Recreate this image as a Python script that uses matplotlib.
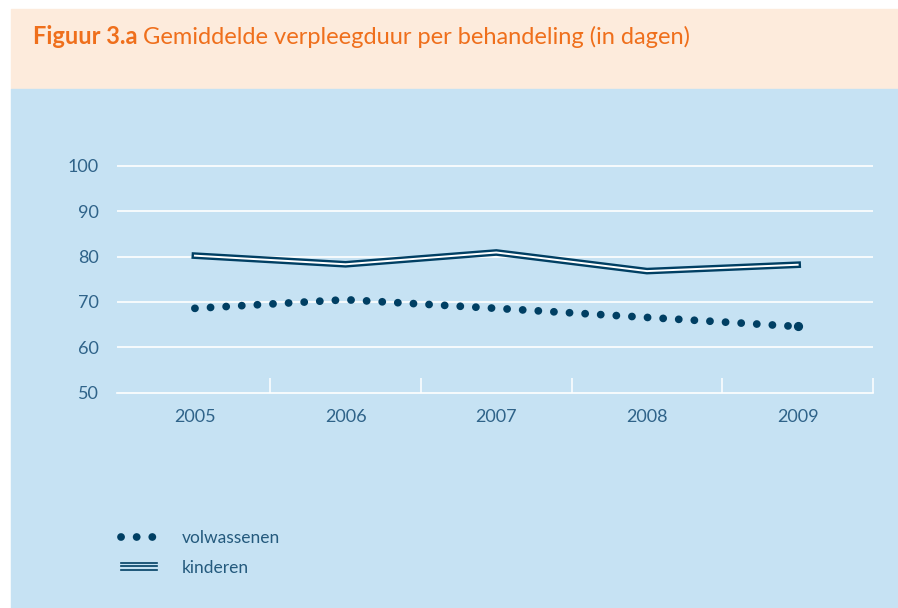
import matplotlib.pyplot as plt
from matplotlib.patches import Rectangle
from matplotlib.lines import Line2D
from matplotlib.legend_handler import HandlerBase

plt.rcParams['font.family'] = ['Lato', 'DejaVu Sans']

# Data
years = [2005, 2006, 2007, 2008, 2009]
volwassenen = [68.6, 70.5, 68.6, 66.6, 64.6]
kinderen = [80.2, 78.3, 80.9, 76.8, 78.2]
yticks = [50, 60, 70, 80, 90, 100]

dark = '#003f63'
tick_col = '#2f6389'
orange = '#ef6f1c'


class TripleLine(HandlerBase):
    # legend symbol for the "kinderen" double line: three thin stripes
    def create_artists(self, legend, orig, xdescent, ydescent, width, height,
                       fontsize, trans):
        out = []
        for dy in (-2.4, 0, 2.4):
            y = height / 2 - ydescent + dy
            out.append(Line2D([-xdescent, width - xdescent], [y, y], color=dark,
                              lw=1.2, transform=trans))
        return out


fig = plt.figure(figsize=(8.98, 6.08), dpi=100)
fig.patch.set_facecolor('white')

# background panels
fig.add_artist(Rectangle((11 / 898, 1 - 89 / 608), 1, 80 / 608,
                         transform=fig.transFigure, color='#fdebdc', zorder=0))
fig.add_artist(Rectangle((11 / 898, 0), 1, 1 - 89 / 608,
                         transform=fig.transFigure, color='#c6e2f3', zorder=0))

ax = fig.add_axes([117 / 898, 1 - 392.8 / 608, 756 / 898, (392.8 - 161.2) / 608])
ax.set_facecolor('none')

# title
t1 = fig.text(33 / 898, 1 - 48 / 608, 'Figuur 3.a', color=orange,
              fontsize=17, fontweight='bold', va='bottom')
ax.annotate('Gemiddelde verpleegduur per behandeling (in dagen)',
            xy=(1, 0), xycoords=t1, xytext=(4, 0), textcoords='offset points',
            color=orange, fontsize=17, va='bottom', ha='left',
            annotation_clip=False)

for y in yticks[1:]:
    ax.axhline(y, color='white', lw=1.2, zorder=1)

# kinderen: double line
k1, = ax.plot(years, kinderen, color=dark, lw=4.8, zorder=3,
              solid_joinstyle='miter')
ax.plot(years, kinderen, color='white', lw=1.4, zorder=4,
        solid_joinstyle='miter')

# volwassenen: dotted
v, = ax.plot(years, volwassenen, color=dark, lw=5.6, dashes=(0.01, 2.0),
             dash_capstyle='round', zorder=3)
ax.plot(years[-1:], volwassenen[-1:], 'o', color=dark, ms=5.6, zorder=3)

ax.set_xlim(2004.483, 2009.5)
ax.set_ylim(50, 101)

for s in ['top', 'right', 'left']:
    ax.spines[s].set_visible(False)
ax.spines['bottom'].set_color('white')
ax.spines['bottom'].set_linewidth(1.2)

ax.set_xticks(years)
ax.set_xticks([y + 0.5 for y in years], minor=True)
ax.tick_params(axis='x', which='major', length=0, pad=12, labelsize=13,
               labelcolor=tick_col)
ax.tick_params(axis='x', which='minor', length=11, width=1.1, color='white',
               direction='in')
ax.set_yticks(yticks)
ax.tick_params(axis='y', length=0, pad=13, labelsize=13, labelcolor=tick_col)

fig.legend([v, k1], ['volwassenen', 'kinderen'],
           handler_map={k1: TripleLine()},
           loc='upper left', bbox_to_anchor=(121 / 898, 1 - 530 / 608),
           frameon=False, fontsize=12.5, labelcolor='#245a7d',
           handlelength=2.1, handletextpad=1.4, labelspacing=0.78,
           borderpad=0, borderaxespad=0)

fig.savefig('out.png', dpi=100)
